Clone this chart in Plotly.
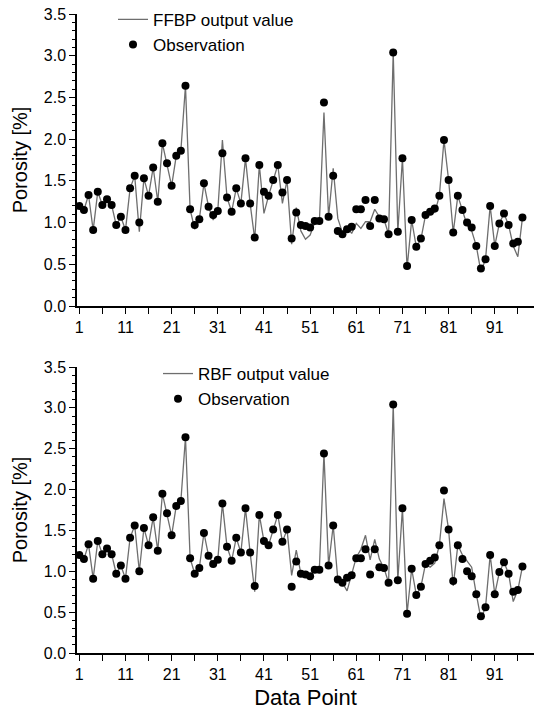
import plotly.graph_objects as go

points = list(range(1, 98))

observation = [
    1.20, 1.15, 1.33, 0.91, 1.37, 1.21, 1.28, 1.21, 0.97, 1.07,
    0.91, 1.41, 1.56, 1.00, 1.53, 1.32, 1.66, 1.25, 1.95, 1.71,
    1.44, 1.80, 1.86, 2.64, 1.16, 0.97, 1.04, 1.47, 1.19, 1.09,
    1.14, 1.83, 1.30, 1.13, 1.41, 1.23, 1.77, 1.23, 0.82, 1.69,
    1.37, 1.32, 1.51, 1.69, 1.36, 1.51, 0.81, 1.12, 0.97, 0.96,
    0.94, 1.02, 1.02, 2.44, 1.07, 1.56, 0.90, 0.86, 0.92, 0.95,
    1.16, 1.16, 1.27, 0.96, 1.27, 1.05, 1.04, 0.86, 3.04, 0.89,
    1.77, 0.48, 1.03, 0.71, 0.81, 1.09, 1.13, 1.17, 1.32, 1.99,
    1.51, 0.88, 1.32, 1.15, 1.00, 0.94, 0.72, 0.45, 0.56, 1.20,
    0.72, 0.99, 1.11, 0.97, 0.75, 0.77, 1.06,
]

ffbp_output = [
    1.20, 1.15, 1.33, 0.91, 1.37, 1.21, 1.28, 1.21, 0.97, 1.07,
    0.91, 1.41, 1.56, 0.89, 1.53, 1.32, 1.66, 1.25, 1.95, 1.71,
    1.44, 1.80, 1.86, 2.64, 1.16, 0.92, 1.04, 1.47, 1.19, 1.03,
    1.14, 1.99, 1.30, 1.13, 1.41, 1.23, 1.77, 1.23, 0.80, 1.69,
    1.11, 1.32, 1.51, 1.69, 1.23, 1.51, 0.74, 1.18, 0.90, 0.80,
    0.85, 1.00, 1.00, 2.32, 1.07, 1.65, 1.05, 0.88, 0.95, 0.87,
    0.99, 0.93, 1.01, 1.01, 1.16, 1.07, 1.04, 0.86, 3.04, 0.89,
    1.77, 0.45, 1.03, 0.71, 0.80, 1.09, 1.13, 1.12, 1.32, 1.99,
    1.51, 0.88, 1.32, 1.15, 0.97, 0.90, 0.72, 0.41, 0.56, 1.20,
    0.72, 0.99, 1.11, 0.97, 0.72, 0.59, 1.06,
]

rbf_output = [
    1.20, 1.15, 1.33, 0.91, 1.37, 1.21, 1.28, 1.21, 0.97, 1.07,
    0.91, 1.41, 1.56, 1.00, 1.53, 1.32, 1.66, 1.25, 1.95, 1.71,
    1.44, 1.80, 1.86, 2.64, 1.16, 0.97, 1.04, 1.47, 1.19, 1.09,
    1.14, 1.83, 1.30, 1.13, 1.41, 1.23, 1.77, 1.23, 0.75, 1.69,
    1.37, 1.32, 1.51, 1.69, 1.36, 1.51, 0.95, 1.26, 0.97, 0.96,
    0.94, 1.02, 1.02, 2.44, 1.07, 1.56, 0.90, 0.86, 0.76, 0.95,
    1.17, 1.27, 1.44, 1.14, 1.39, 1.15, 1.04, 0.86, 3.04, 0.89,
    1.77, 0.48, 1.03, 0.71, 0.81, 1.09, 1.05, 1.10, 1.32, 1.89,
    1.51, 0.82, 1.32, 1.20, 1.12, 1.05, 0.72, 0.42, 0.56, 1.20,
    0.72, 0.99, 1.11, 0.97, 0.63, 0.77, 1.06,
]

x_tickvals = [1, 11, 21, 31, 41, 51, 61, 71, 81, 91]
y_tickvals = [0.0, 0.5, 1.0, 1.5, 2.0, 2.5, 3.0, 3.5]

FONT = "Arial, Liberation Sans, sans-serif"
LINE_COLOR = "#6e6e6e"

fig = go.Figure()

fig.add_trace(go.Scatter(x=points, y=ffbp_output, mode="lines",
                         line=dict(color=LINE_COLOR, width=1.3),
                         name="FFBP output value", xaxis="x", yaxis="y",
                         legend="legend"))
fig.add_trace(go.Scatter(x=points, y=observation, mode="markers",
                         marker=dict(color="black", size=8),
                         name="Observation", xaxis="x", yaxis="y",
                         legend="legend"))
fig.add_trace(go.Scatter(x=points, y=rbf_output, mode="lines",
                         line=dict(color=LINE_COLOR, width=1.3),
                         name="RBF output value", xaxis="x2", yaxis="y2",
                         legend="legend2"))
fig.add_trace(go.Scatter(x=points, y=observation, mode="markers",
                         marker=dict(color="black", size=8),
                         name="Observation", xaxis="x2", yaxis="y2",
                         legend="legend2"))

H_PLOT = 714 - 14 - 61
top_dom = [(653 - 306) / H_PLOT, 1.0]
bot_dom = [0.0, (653 - 367) / H_PLOT]

def xaxis_cfg(anchor, title=None):
    d = dict(
        range=[0.5, 99.5], anchor=anchor, showgrid=False, zeroline=False,
        automargin=False,
        showline=True, linecolor="black", linewidth=1.5,
        ticks="outside", ticklen=6, tickwidth=1.3, tickcolor="black",
        tickvals=x_tickvals, ticktext=[str(v) for v in x_tickvals],
        tickfont=dict(family=FONT, size=16, color="black"),
        minor=dict(tickvals=[v + 5 for v in x_tickvals], ticks="outside",
                   ticklen=6, tickwidth=1.3, tickcolor="black"),
    )
    if title:
        d["title"] = dict(text=title, font=dict(family=FONT, size=22, color="black"),
                          standoff=8)
    return d

def yaxis_cfg(domain, anchor):
    return dict(
        domain=domain, anchor=anchor, range=[0, 3.5], showgrid=False,
        zeroline=False, showline=True, linecolor="black", linewidth=1.5,
        automargin=False,
        ticks="outside", ticklen=6, tickwidth=1.3, tickcolor="black",
        tickvals=y_tickvals, ticktext=[f"{v:.1f}" for v in y_tickvals],
        tickfont=dict(family=FONT, size=16, color="black"),
        minor=dict(dtick=0.1, ticks="outside", ticklen=3, tickwidth=1,
                   tickcolor="black"),
        title=dict(text="Porosity [%]", font=dict(family=FONT, size=20, color="black"),
                   standoff=11),
    )

fig.update_layout(
    width=534, height=714,
    margin=dict(l=77, r=0, t=14, b=61),
    paper_bgcolor="white", plot_bgcolor="white",
    font=dict(family=FONT, color="black"),
    xaxis=xaxis_cfg("y"),
    yaxis=yaxis_cfg(top_dom, "x"),
    xaxis2=xaxis_cfg("y2", "Data Point"),
    yaxis2=yaxis_cfg(bot_dom, "x2"),
    legend=dict(x=(113 - 77) / 457, y=1.019, xanchor="left", yanchor="top",
                bgcolor="rgba(0,0,0,0)", itemwidth=30, tracegroupgap=0,
                font=dict(family=FONT, size=17, color="black")),
    legend2=dict(x=(158 - 77) / 457, y=(653 - 356) / H_PLOT, xanchor="left",
                 yanchor="top", bgcolor="rgba(0,0,0,0)", itemwidth=30,
                 tracegroupgap=0,
                 font=dict(family=FONT, size=17, color="black")),
    showlegend=True,
)

fig.write_html(
    "out.html",
    config={"displayModeBar": False},
    post_script="document.body.style.margin='0';document.body.style.overflow='hidden';",
)
